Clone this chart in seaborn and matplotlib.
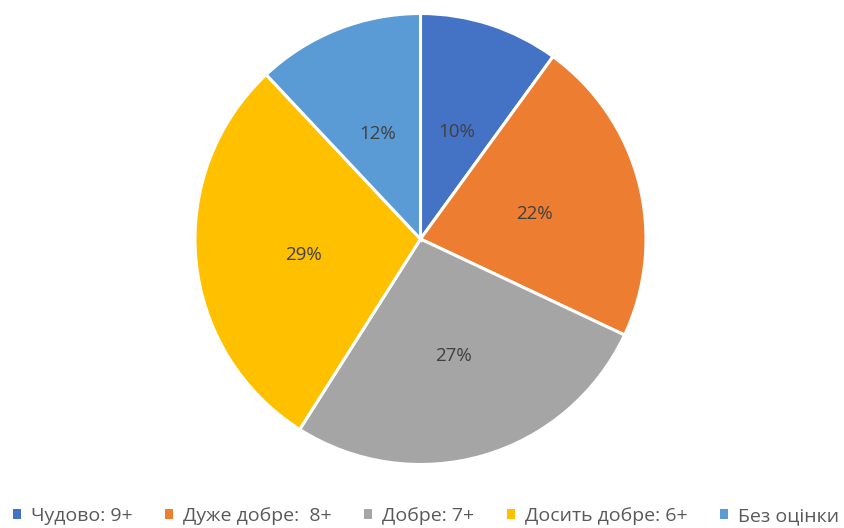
import matplotlib
matplotlib.use("Agg")
import matplotlib.pyplot as plt
import seaborn as sns
from matplotlib.patches import Patch

categories = ["Чудово: 9+", "Дуже добре:  8+", "Добре: 7+", "Досить добре: 6+", "Без оцінки"]
values = [10, 22, 27, 29, 12]
colors = ["#4472C4", "#ED7D31", "#A5A5A5", "#FFC000", "#5B9BD5"]

sns.set_theme(style="white")
plt.rcParams['font.family'] = ['Open Sans', 'DejaVu Sans']

W, H = 844, 528
cx, cy, r = 420.5, 239, 225.5

fig = plt.figure(figsize=(W / 100, H / 100), dpi=100)
fig.patch.set_facecolor("white")
ax = fig.add_axes([(cx - r) / W, (H - cy - r) / H, 2 * r / W, 2 * r / H])
wedges, texts, autotexts = ax.pie(
    values, colors=colors, startangle=90, counterclock=False,
    autopct=lambda p: f"{p:.0f}%", pctdistance=0.52,
    wedgeprops=dict(edgecolor="white", linewidth=2.2),
    textprops=dict(color="#404040", fontsize=13.5),
)
for t in autotexts:
    x, y = t.get_position()
    t.set_position((x, y - 0.02))
ax.set_xlim(-1, 1)
ax.set_ylim(-1, 1)
ax.set_aspect("equal")
ax.axis("off")

handles = [Patch(facecolor=c, edgecolor="none") for c in colors]
fig.legend(handles, categories, loc="center", bbox_to_anchor=(426 / W, 1 - 516 / H),
           ncol=5, frameon=False, fontsize=14, handlelength=0.4, handleheight=0.4,
           handletextpad=0.5, columnspacing=1.7, labelcolor="#595959",
           borderpad=0, borderaxespad=0)

fig.savefig("out.png", dpi=100, facecolor="white")
